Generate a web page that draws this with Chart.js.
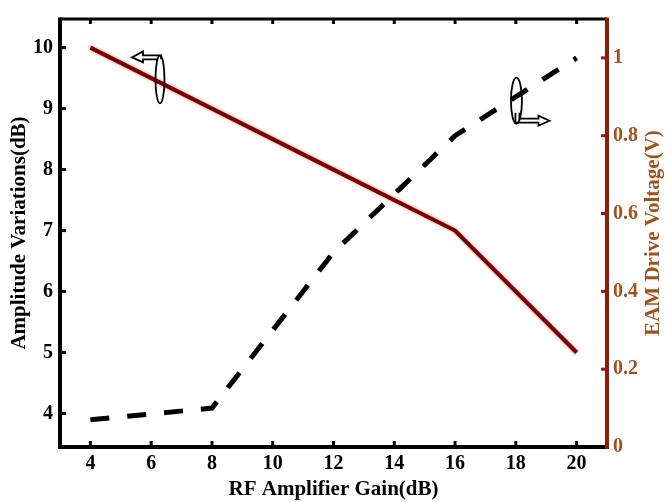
<!DOCTYPE html>
<html><head><meta charset="utf-8">
<script src="https://cdn.jsdelivr.net/npm/chart.js@4/dist/chart.umd.min.js"></script>
<style>html,body{margin:0;padding:0;background:#fff}#wrap{width:666px;height:502px}</style>
</head><body><div id="wrap"><canvas id="c" width="666" height="502"></canvas></div>
<script>
const gain = [4, 8, 12, 16, 20];
const amplitudeVariation = [10, 9, 8, 7, 5];
const eamDriveVoltage = [0.07, 0.10, 0.50, 0.80, 1.00];
const xTicks = [4, 6, 8, 10, 12, 14, 16, 18, 20];
const leftTicks = [4, 5, 6, 7, 8, 9, 10];
const rightTicks = [0, 0.2, 0.4, 0.6, 0.8, 1];
const rightTitle = 'EAM Drive Voltage(V)';

const RED = '#7d0000';
const AXRED = '#8e1c02';
const BROWN = '#a0521c';
const SERIF = '"Liberation Serif", "Times New Roman", serif';

const framePlugin = {
  id: 'frame',
  beforeDatasetDraw(chart, args) {
    if (args.index === 0) {
      chart.ctx.save();
      chart.ctx.shadowColor = 'rgba(230,70,70,0.7)';
      chart.ctx.shadowBlur = 3;
    }
  },
  afterDatasetDraw(chart, args) {
    if (args.index === 0) chart.ctx.restore();
  },
  afterDraw(chart) {
    const {ctx, chartArea: a, scales} = chart;
    const L = a.left, R = a.right, T = a.top, B = a.bottom;
    ctx.save();
    ctx.lineCap = 'butt';
    // ticks (inward)
    ctx.lineWidth = 3;
    ctx.strokeStyle = '#000';
    xTicks.forEach(v => {
      const px = scales.x.getPixelForValue(v);
      ctx.beginPath(); ctx.moveTo(px, B); ctx.lineTo(px, B - 6); ctx.stroke();
      ctx.beginPath(); ctx.moveTo(px, T); ctx.lineTo(px, T + 5); ctx.stroke();
    });
    leftTicks.forEach(v => {
      const py = scales.y.getPixelForValue(v);
      ctx.beginPath(); ctx.moveTo(L, py); ctx.lineTo(L + 6, py); ctx.stroke();
    });
    ctx.strokeStyle = AXRED;
    rightTicks.forEach(v => {
      const py = scales.y1.getPixelForValue(v);
      ctx.beginPath(); ctx.moveTo(R, py); ctx.lineTo(R - 6, py); ctx.stroke();
    });
    // frame
    ctx.strokeStyle = '#000';
    ctx.lineWidth = 3;
    ctx.beginPath(); ctx.moveTo(L, T); ctx.lineTo(R, T); ctx.stroke();
    ctx.lineWidth = 4;
    ctx.beginPath(); ctx.moveTo(L, T - 1.5); ctx.lineTo(L, B); ctx.lineTo(R, B); ctx.stroke();
    ctx.strokeStyle = AXRED;
    ctx.beginPath(); ctx.moveTo(R, T - 1.5); ctx.lineTo(R, B + 2); ctx.stroke();

    // right axis title, reading bottom-to-top
    ctx.save();
    ctx.translate(654, (T + B) / 2);
    ctx.rotate(-Math.PI / 2);
    ctx.font = 'bold 21px ' + SERIF;
    ctx.fillStyle = BROWN;
    ctx.textAlign = 'center';
    ctx.textBaseline = 'middle';
    ctx.fillText(rightTitle, 0, 0);
    ctx.restore();

    // annotations
    ctx.strokeStyle = '#000';
    ctx.fillStyle = '#fff';
    ctx.lineWidth = 1.8;
    const lx = scales.x.getPixelForValue(6.29), ly = scales.y.getPixelForValue(9.48);
    ctx.beginPath(); ctx.ellipse(lx, ly, 4.5, 24, 0, 0, Math.PI * 2); ctx.stroke();
    const ay = ly - 22;
    ctx.beginPath();
    ctx.moveTo(lx + 1, ly - 20);
    ctx.lineTo(lx + 1, ay - 2);
    ctx.lineTo(lx - 17, ay - 2);
    ctx.lineTo(lx - 17, ay - 6);
    ctx.lineTo(lx - 28, ay);
    ctx.lineTo(lx - 17, ay + 5);
    ctx.lineTo(lx - 17, ay + 2);
    ctx.lineTo(lx - 3, ay + 2);
    ctx.lineTo(lx - 3, ly - 18);
    ctx.stroke();
    const rx = scales.x.getPixelForValue(18.02), ry = scales.y1.getPixelForValue(0.89);
    ctx.beginPath(); ctx.ellipse(rx, ry, 5.5, 23, 0, 0, Math.PI * 2); ctx.stroke();
    const by = ry + 20;
    ctx.beginPath();
    ctx.moveTo(rx - 1, ry + 12);
    ctx.lineTo(rx - 1, by + 2);
    ctx.lineTo(rx + 22, by + 2);
    ctx.lineTo(rx + 22, by + 5);
    ctx.lineTo(rx + 33, by);
    ctx.lineTo(rx + 22, by - 5);
    ctx.lineTo(rx + 22, by - 2);
    ctx.lineTo(rx + 3, by - 2);
    ctx.lineTo(rx + 3, ry + 12);
    ctx.stroke();
    ctx.restore();
  }
};

const tickFont = {family: SERIF, size: 20, weight: 'bold'};
const titleFont = {family: SERIF, size: 21, weight: 'bold'};

new Chart(document.getElementById('c'), {
  type: 'line',
  data: {
    datasets: [
      {
        label: 'Amplitude Variations',
        data: gain.map((g, i) => ({x: g, y: amplitudeVariation[i]})),
        yAxisID: 'y',
        borderColor: RED,
        borderWidth: 4,
        pointRadius: 0,
        tension: 0,
        fill: false
      },
      {
        label: 'EAM Drive Voltage',
        data: gain.map((g, i) => ({x: g, y: eamDriveVoltage[i]})),
        yAxisID: 'y1',
        borderColor: '#000',
        borderWidth: 5,
        borderDash: [19, 18],
        pointRadius: 0,
        tension: 0,
        fill: false
      }
    ]
  },
  options: {
    responsive: false,
    animation: false,
    devicePixelRatio: 1,
    layout: {padding: {top: 14, left: 0, right: 0, bottom: 0}},
    plugins: {legend: {display: false}, tooltip: {enabled: false}},
    scales: {
      x: {
        type: 'linear', min: 3, max: 21,
        afterBuildTicks: s => { s.ticks = xTicks.map(v => ({value: v})); },
        afterFit: s => { s.height = 55; },
        grid: {display: false, drawTicks: false},
        border: {display: false},
        ticks: {font: tickFont, color: '#000', padding: 5, maxRotation: 0, autoSkip: false},
        title: {display: true, text: 'RF Amplifier Gain(dB)', font: titleFont, color: '#000', padding: {top: 0, bottom: 0}}
      },
      y: {
        type: 'linear', position: 'left', min: 3.45, max: 10.47,
        afterBuildTicks: s => { s.ticks = leftTicks.map(v => ({value: v})); },
        afterFit: s => { s.width = 60; },
        grid: {display: false, drawTicks: false},
        border: {display: false},
        ticks: {font: tickFont, color: '#000', padding: 7},
        title: {display: true, text: 'Amplitude Variations(dB)', font: titleFont, color: '#000', padding: {top: 7, bottom: 0}}
      },
      y1: {
        type: 'linear', position: 'right', min: 0, max: 1.10,
        afterBuildTicks: s => { s.ticks = rightTicks.map(v => ({value: v})); },
        afterFit: s => { s.width = 59; },
        grid: {display: false, drawTicks: false},
        border: {display: false},
        ticks: {font: tickFont, color: BROWN, padding: 6, callback: v => String(v)},
        title: {display: false}
      }
    }
  },
  plugins: [framePlugin]
});
</script>
</body></html>
